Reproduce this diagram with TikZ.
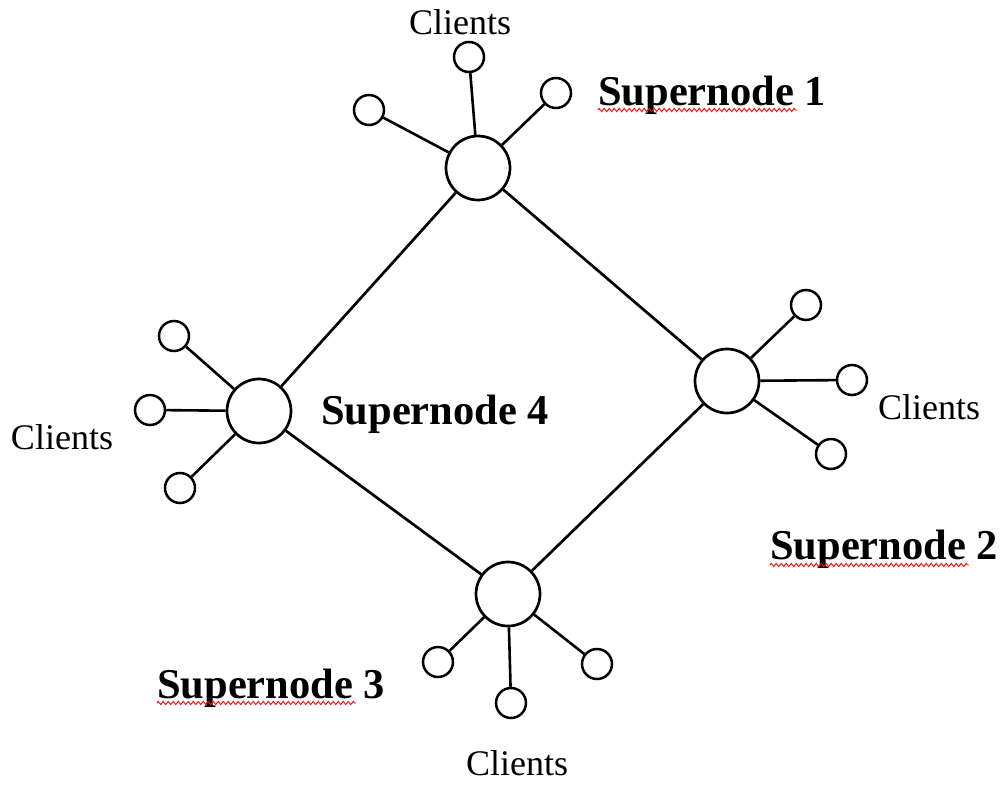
\documentclass[tikz,border=0pt]{standalone}
\usepackage{fontspec}
\setmainfont{Liberation Serif}
\usetikzlibrary{decorations.pathmorphing}
\begin{document}
\begin{tikzpicture}[x=1pt,y=-1pt,
  supernode/.style={circle,draw,line width=2.7pt,minimum size=64pt,inner sep=0pt},
  client/.style={circle,draw,line width=2.5pt,minimum size=30pt,inner sep=0pt},
  link/.style={line width=2.7pt},
  spoke/.style={line width=2.6pt},
  lbl/.style={font=\fontsize{36}{40}\selectfont,inner sep=0pt},
  snlbl/.style={font=\fontsize{42.5}{46}\selectfont\bfseries,inner sep=0pt,anchor=base west},
  squiggle/.style={red,line width=0.9pt,decorate,decoration={zigzag,segment length=5pt,amplitude=1.6pt}}]
\useasboundingbox (0,0) rectangle (1002,785);

% supernodes
\node[supernode] (s1) at (478,168) {};
\node[supernode] (s2) at (727,381) {};
\node[supernode] (s3) at (508,594) {};
\node[supernode] (s4) at (259,411) {};

% backbone ring
\draw[link] (s1) -- (s2);
\draw[link] (s2) -- (s3);
\draw[link] (s3) -- (s4);
\draw[link] (s4) -- (s1);

% clients of supernode 1
\node[client] (c1a) at (369,110) {};
\node[client] (c1b) at (469,57) {};
\node[client] (c1c) at (556,93) {};
% clients of supernode 2
\node[client] (c2a) at (806,305) {};
\node[client] (c2b) at (852,380) {};
\node[client] (c2c) at (831,454) {};
% clients of supernode 3
\node[client] (c3a) at (438,662) {};
\node[client] (c3b) at (511,703) {};
\node[client] (c3c) at (597,664) {};
% clients of supernode 4
\node[client] (c4a) at (174,336) {};
\node[client] (c4b) at (150,410) {};
\node[client] (c4c) at (180,488) {};

\foreach \s/\c in {s1/c1a,s1/c1b,s1/c1c,s2/c2a,s2/c2b,s2/c2c,
                   s3/c3a,s3/c3b,s3/c3c,s4/c4a,s4/c4b,s4/c4c}
  \draw[spoke] (\s) -- (\c);

% client labels
\node[lbl] (l1) at (460,22) {Clients};
\node[lbl] (l2) at (929,407) {Clients};
\node[lbl] (l3) at (62,437) {Clients};
\node[lbl] (l4) at (517,763) {Clients};

% supernode labels
\node[snlbl] (t1) at (598,105) {Supernode 1};
\node[snlbl] (t2) at (770,559) {Supernode 2};
\node[snlbl] (t3) at (157,698) {Supernode 3};
\node[snlbl] (t4) at (321,424) {Supernode 4};

% spell-check underlines
\coordinate (u1a) at (598,110); \coordinate (u1b) at (797,110);
\coordinate (u2a) at (770,565); \coordinate (u2b) at (969,565);
\coordinate (u3a) at (157,703); \coordinate (u3b) at (356,703);
\draw[squiggle] (u1a) -- (u1b);
\draw[squiggle] (u2a) -- (u2b);
\draw[squiggle] (u3a) -- (u3b);
\end{tikzpicture}
\end{document}
